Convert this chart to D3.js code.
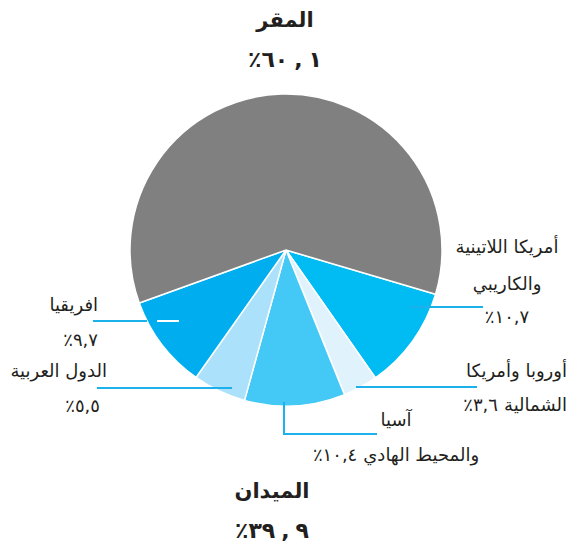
<!DOCTYPE html>
<html lang="ar">
<head>
<meta charset="utf-8">
<script src="https://cdnjs.cloudflare.com/ajax/libs/d3/7.8.5/d3.min.js"></script>
<style>
  body { margin: 0; background: #fff; }
  svg text { font-family: "DejaVu Sans", sans-serif; fill: #231f20; }
</style>
</head>
<body>
<div id="chart"></div>
<script>
// shares of spending, field regions first then headquarters
var regions = ["أمريكا اللاتينية والكاريبي", "أوروبا وأمريكا الشمالية", "آسيا والمحيط الهادي",
               "الدول العربية", "افريقيا", "المقر"];
var shares = [10.7, 3.6, 10.4, 5.5, 9.7, 60.1];
var colors = ["#00bcf2", "#e0f3fc", "#44c8f5", "#abe1fa", "#00aeef", "#808080"];

// label text lines; the last line ends with the percentage (word before it, if any)
var labelLines = [
  ["أمريكا اللاتينية", "والكاريبي", ""],
  ["أوروبا وأمريكا", "الشمالية"],
  ["آسيا", "والمحيط الهادي"],
  ["الدول العربية", ""],
  ["افريقيا", ""]
];
var totals = [{name: "المقر", value: 60.1}, {name: "الميدان", value: 39.9}];

var width = 579,
    height = 549,
    radius = 156,
    cx = 286,
    cy = 250;

var digits = "٠١٢٣٤٥٦٧٨٩";

function arDigits(s) {
  return s.replace(/\d/g, function(d) { return digits[+d]; });
}

var deg = Math.PI / 180;

var pie = d3.pie()
    .sort(null)
    .startAngle(106.5 * deg)
    .endAngle(466.5 * deg)
    .value(function(d) { return d; });

var arc = d3.arc()
    .outerRadius(radius)
    .innerRadius(0);

var svg = d3.select("#chart").append("svg")
    .attr("width", width)
    .attr("height", height);

var g = svg.append("g")
    .attr("transform", "translate(" + cx + "," + cy + ")");

g.selectAll(".slice")
    .data(pie(shares))
  .enter().append("path")
    .attr("class", "slice")
    .attr("d", arc)
    .style("fill", function(d, i) { return colors[i]; })
    .style("stroke", "#fff")
    .style("stroke-width", 1.5);

// leader lines (relative to pie centre) and label anchors
var leaders = [
  [[124, 57], [197, 57]],
  [[70, 137], [191, 137]],
  [[-2, 152], [-2, 184], [91, 184]],
  [[-54, 138], [-189, 138]],
  [[-139, 71], [-193, 71]]
];
var labelPos = [
  {x: 507, y: 253, anchor: "middle", dy: [0, 37, 70]},
  {x: 567, y: 377, anchor: "end", dy: [0, 34]},
  {x: 396, y: 426, anchor: "middle", dy: [0, 35]},
  {x: 107, y: 377, anchor: "end", dy: [0, 35]},
  {x: 98, y: 311, anchor: "end", dy: [0, 35]}
];

var line = d3.line();

g.selectAll(".leader")
    .data(leaders)
  .enter().append("path")
    .attr("class", "leader")
    .attr("d", line)
    .style("fill", "none")
    .style("stroke", "#1cb1ea")
    .style("stroke-width", 2);

// white tick inside the africa slice
g.append("line")
    .attr("x1", -129).attr("x2", -107)
    .attr("y1", 71).attr("y2", 71)
    .style("stroke", "#fff")
    .style("stroke-width", 2);

// lay out pieces left to right myself, so the bidi order is fixed
function drawPieces(x, y, anchor, pieces, gaps, size, weight) {
  var nodes = pieces.map(function(s) {
    return svg.append("text")
        .attr("y", y)
        .attr("text-anchor", "start")
        .style("font-size", size + "px")
        .style("font-weight", weight)
        .text(s);
  });
  var widths = nodes.map(function(n) { return n.node().getComputedTextLength(); });
  var total = d3.sum(widths) + d3.sum(gaps);
  var left = anchor === "end" ? x - total : anchor === "middle" ? x - total / 2 : x;
  nodes.forEach(function(n, k) {
    n.attr("x", left);
    left += widths[k] + (gaps[k] || 0);
  });
}

function pctPieces(v) {
  // visual order: percent sign, then the number
  return ["٪", arDigits(v.toFixed(1)).replace(".", ",")];
}

labelLines.forEach(function(lines, i) {
  var p = labelPos[i];
  lines.forEach(function(s, j) {
    var x = p.x;
    if (i === 3 && j === 1) x = 100;
    var y = p.y + p.dy[j];
    if (j < lines.length - 1) {
      drawPieces(x, y, p.anchor, [s], [], 18, "normal");
    } else if (s === "") {
      drawPieces(x, y, p.anchor, pctPieces(shares[i]), [0], 18, "normal");
    } else {
      drawPieces(x, y, p.anchor, pctPieces(shares[i]).concat([s]), [0, 6], 18, "normal");
    }
  });
});

var titlePos = [{x: 285, y: 27}, {x: 272, y: 498}];
totals.forEach(function(d, i) {
  drawPieces(titlePos[i].x, titlePos[i].y, "middle", [d.name], [], 21, "bold");
  var parts = arDigits(d.value.toFixed(1)).split(".");
  drawPieces(titlePos[i].x, titlePos[i].y + 40, "middle",
      ["٪", parts[0], ",", parts[1]], [0, 6, 6], 22, "bold");
});
</script>
</body>
</html>
